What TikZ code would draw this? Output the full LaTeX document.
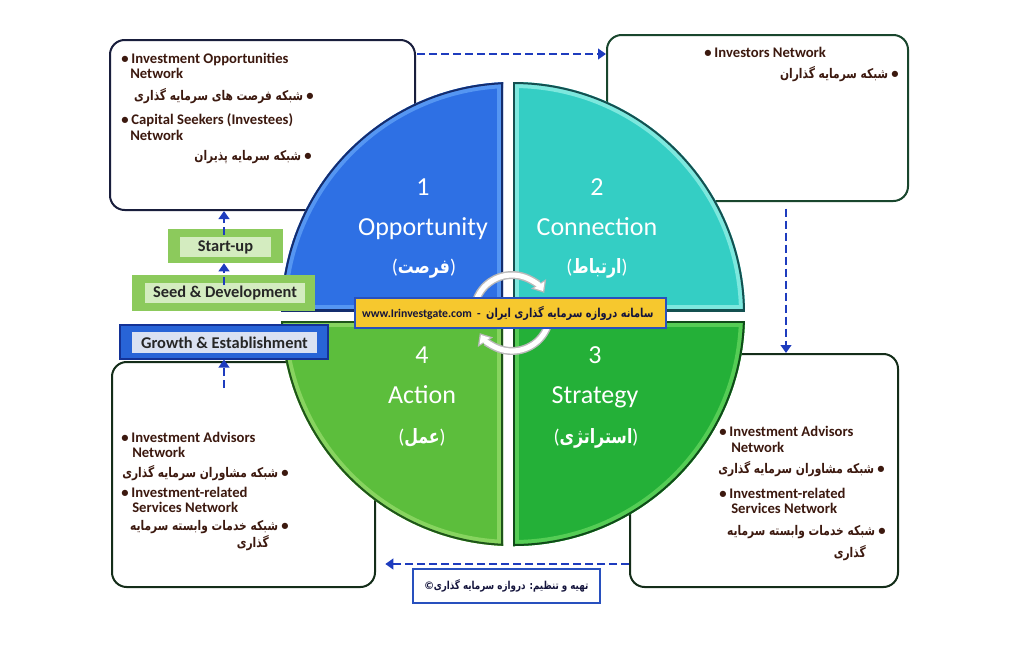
\documentclass[tikz,border=0pt]{standalone}
\usepackage{fontspec}
\setmainfont{Carlito}
\newfontfamily\fa[Script=Arabic,FakeStretch=0.8]{DejaVu Sans}
\TeXXeTstate=1
\usetikzlibrary{arrows.meta,fit}
\newcommand{\fatext}[1]{{\fa\bfseries\beginR #1\endR}}
\newcommand{\fas}[1]{{\fontsize{10pt}{12pt}\selectfont\fatext{#1}}}
\newcommand{\bul}{\textbullet\hspace{0.2em}}
\definecolor{q1}{RGB}{46,112,228}
\definecolor{q1r}{RGB}{85,150,242}
\definecolor{q1d}{RGB}{20,45,110}
\definecolor{q2}{RGB}{52,206,196}
\definecolor{q2r}{RGB}{125,232,222}
\definecolor{q2d}{RGB}{20,80,80}
\definecolor{q3}{RGB}{36,176,56}
\definecolor{q3r}{RGB}{85,205,85}
\definecolor{q3d}{RGB}{15,75,25}
\definecolor{q4}{RGB}{92,190,60}
\definecolor{q4r}{RGB}{135,212,95}
\definecolor{q4d}{RGB}{30,85,25}
\definecolor{txtc}{RGB}{60,25,15}
\definecolor{flowc}{RGB}{30,60,190}
\definecolor{bandc}{RGB}{246,200,46}
\definecolor{bandb}{RGB}{40,80,190}
\definecolor{stg}{RGB}{140,202,92}
\definecolor{stgi}{RGB}{212,236,192}
\definecolor{grb}{RGB}{40,100,215}
\definecolor{grbd}{RGB}{20,50,150}
\definecolor{grbi}{RGB}{218,225,242}
\definecolor{b1c}{RGB}{25,30,60}
\definecolor{b2c}{RGB}{25,70,45}
\definecolor{b3c}{RGB}{20,45,25}
\definecolor{navy}{RGB}{20,20,60}
\begin{document}
\begin{tikzpicture}[x=0.75pt,y=-0.75pt,
  infobox/.style={draw, line width=1.5pt, rounded corners=11pt, fill=white, inner sep=0pt},
  txt/.style={font=\fontsize{11pt}{12pt}\selectfont\bfseries, text=txtc, inner sep=0pt},
  qtxt/.style={font=\fontsize{19.5pt}{22pt}\selectfont, text=white, inner sep=0pt, anchor=base},
  qfa/.style={font=\fontsize{14.8pt}{17pt}\selectfont, text=white, inner sep=0pt, anchor=base},
  flow/.style={draw=flowc, line width=2.2pt, dash pattern=on 6pt off 3pt, -{Triangle[width=8pt,length=6pt]}},
  stageout/.style={inner sep=0pt, fill=stg},
  stagein/.style={inner sep=0pt, fill=stgi},
  stagetxt/.style={inner sep=0pt, font=\fontsize{12.3pt}{14pt}\selectfont\bfseries, text=black!85},
  band/.style={inner sep=0pt, fill=bandc, draw=bandb, line width=1.2pt},
  bandtxt/.style={inner sep=0pt, font=\fontsize{8.8pt}{10pt}\selectfont\bfseries, text=navy},
  credit/.style={inner sep=0pt, fill=white, draw=bandb, line width=1.4pt}
]
\useasboundingbox (0,0) rectangle (1024,644);
\fill[white] (0,0) rectangle (1024,644);

% info boxes
\node[infobox, draw=b1c, fit={(110,40) (415,210)}] (b1) {};
\node[infobox, draw=b2c, fit={(607,35) (908,201)}] (b2) {};
\node[infobox, draw=b3c, fit={(630,354) (898,587)}] (b3) {};
\node[infobox, draw=b3c, fit={(112,362) (375,587)}] (b4) {};

% box texts
\node[txt, anchor=base west] (t1a) at (121,63) {\bul Investment Opportunities};
\node[txt, anchor=base west] (t1a2) at (130,78) {Network};
\node[txt, anchor=base east] (t1b) at (314,100) {\fas{شبکه فرصت های سرمایه گذاری}\ \textbullet};
\node[txt, anchor=base west] (t1c) at (121,124) {\bul Capital Seekers (Investees)};
\node[txt, anchor=base west] (t1c2) at (130,140) {Network};
\node[txt, anchor=base east] (t1d) at (312,160) {\fas{شبکه سرمایه پذیران}\ \textbullet};

\node[txt, anchor=base west] (t2a) at (704,57) {\bul Investors Network};
\node[txt, anchor=base east] (t2b) at (899,78) {\fas{شبکه سرمایه گذاران}\ \textbullet};

\node[txt, anchor=base west] (t3a) at (719,436) {\bul Investment Advisors};
\node[txt, anchor=base west] (t3a2) at (731,452) {Network};
\node[txt, anchor=base east] (t3b) at (885,473) {\fas{شبکه مشاوران سرمایه گذاری}\ \textbullet};
\node[txt, anchor=base west] (t3c) at (719,498) {\bul Investment-related};
\node[txt, anchor=base west] (t3c2) at (731,513) {Services Network};
\node[txt, anchor=base east] (t3d) at (886,535) {\fas{شبکه خدمات وابسته سرمایه}\ \textbullet};
\node[txt, anchor=base east] (t3d2) at (866,557) {\fas{گذاری}};

\node[txt, anchor=base west] (t4a) at (121,442) {\bul Investment Advisors};
\node[txt, anchor=base west] (t4a2) at (132,457) {Network};
\node[txt, anchor=base east] (t4b) at (289,477) {\fas{شبکه مشاوران سرمایه گذاری}\ \textbullet};
\node[txt, anchor=base west] (t4c) at (121,497) {\bul Investment-related};
\node[txt, anchor=base west] (t4c2) at (132,512) {Services Network};
\node[txt, anchor=base east] (t4d) at (289,530) {\fas{شبکه خدمات وابسته سرمایه}\ \textbullet};
\node[txt, anchor=base east] (t4d2) at (269,547) {\fas{گذاری}};

% credit box
\node[credit, fit={(413,569) (600,603)}] (cr) {};
\node[inner sep=0pt, font=\fontsize{8.2pt}{10pt}\selectfont\bfseries, text=navy] (crt) at (cr.center) {©\fatext{تهیه و تنظیم: دروازه سرمایه گذاری}};

% cycle arrows between boxes
\coordinate (ta) at (0,54);
\coordinate (ra) at (786,0);
\coordinate (ba) at (0,564);
\draw[flow, shorten <=1pt] (b1.east |- ta) -- (b2.west |- ta);
\draw[flow, shorten <=5pt] (b2.south -| ra) -- (b3.north -| ra);
\draw[flow, shorten >=7pt] (b3.west |- ba) -- (b4.east |- ba);

% quadrants
\begin{scope}
\clip (513,314) circle[radius=232];
\clip (270,70) rectangle (503,311);
\fill[q1] (270,70) rectangle (503,311);
\draw[q1r, line width=9pt] (513,314) circle[radius=232];
\draw[q1r, line width=9pt] (270,70) rectangle (503,311);
\draw[q1d, line width=3pt] (513,314) circle[radius=232];
\draw[q1d, line width=3pt] (270,70) rectangle (503,311);
\end{scope}
\begin{scope}
\clip (513,314) circle[radius=232];
\clip (513,70) rectangle (760,311);
\fill[q2] (513,70) rectangle (760,311);
\draw[q2r, line width=9pt] (513,314) circle[radius=232];
\draw[q2r, line width=9pt] (513,70) rectangle (760,311);
\draw[q2d, line width=3pt] (513,314) circle[radius=232];
\draw[q2d, line width=3pt] (513,70) rectangle (760,311);
\end{scope}
\begin{scope}
\clip (513,314) circle[radius=232];
\clip (513,321) rectangle (760,560);
\fill[q3] (513,321) rectangle (760,560);
\draw[q3r, line width=9pt] (513,314) circle[radius=232];
\draw[q3r, line width=9pt] (513,321) rectangle (760,560);
\draw[q3d, line width=3pt] (513,314) circle[radius=232];
\draw[q3d, line width=3pt] (513,321) rectangle (760,560);
\end{scope}
\begin{scope}
\clip (513,314) circle[radius=232];
\clip (270,321) rectangle (503,560);
\fill[q4] (270,321) rectangle (503,560);
\draw[q4r, line width=9pt] (513,314) circle[radius=232];
\draw[q4r, line width=9pt] (270,321) rectangle (503,560);
\draw[q4d, line width=3pt] (513,314) circle[radius=232];
\draw[q4d, line width=3pt] (270,321) rectangle (503,560);
\end{scope}

% quadrant texts
\node[qtxt] (n1) at (423,195) {1};
\node[qtxt] (op) at (423,235) {Opportunity};
\node[qfa] (opf) at (424,273) {(\fatext{فرصت})};
\node[qtxt] (n2) at (597,195) {2};
\node[qtxt] (co) at (597,235) {Connection};
\node[qfa] (cof) at (597,273) {(\fatext{ارتباط})};
\node[qtxt] (n4) at (422,363) {4};
\node[qtxt] (ac) at (422,403) {Action};
\node[qfa] (acf) at (422,443) {(\fatext{عمل})};
\node[qtxt] (n3) at (595,363) {3};
\node[qtxt] (sg) at (595,403) {Strategy};
\node[qfa] (sgf) at (596,443) {(\fatext{استراتژی})};

% circular arrows
\draw[gray!55, line width=6pt, -{Triangle[width=13pt,length=8pt]}] (512,313) ++(200:38) arc[start angle=200,end angle=328,radius=38];
\draw[white, line width=3.8pt, shorten >=1.6pt, -{Triangle[width=9pt,length=5.5pt]}] (512,313) ++(200:38) arc[start angle=200,end angle=328,radius=38];
\draw[gray!55, line width=6pt, -{Triangle[width=13pt,length=8pt]}] (512,313) ++(20:38) arc[start angle=20,end angle=148,radius=38];
\draw[white, line width=3.8pt, shorten >=1.6pt, -{Triangle[width=9pt,length=5.5pt]}] (512,313) ++(20:38) arc[start angle=20,end angle=148,radius=38];

% band
\node[band, fit={(355,298) (666,328)}] (bd) {};
\node[bandtxt] (bdt) at ([xshift=-2pt]bd.center) {www.Irinvestgate.com\ \ -\ \ {\fontsize{9.2pt}{11pt}\selectfont\fatext{سامانه دروازه سرمایه گذاری ایران}}};

% stage boxes
\node[stageout, fit={(168,229) (283,263)}] (suo) {};
\node[stagein, fit={(180,237) (271,257)}] (sui) {};
\node[stagetxt] (su) at (sui.center) {Start-up};
\node[stageout, fit={(132,275) (315,311)}] (sdo) {};
\node[stagein, fit={(145,283) (305,303)}] (sdi) {};
\node[stagetxt] (sd) at (sdi.center) {Seed \& Development};
\node[inner sep=0pt, fill=grb, draw=grbd, line width=0.8pt, fit={(120,325) (328,359)}] (gro) {};
\node[stagein, fill=grbi, fit={(132,332) (317,353)}] (gri) {};
\node[stagetxt] (gr) at (gri.center) {Growth \& Establishment};

% stage arrows
\coordinate (l1) at (224,388);
\coordinate (l2) at (224,285);
\coordinate (l3) at (224,235);
\draw[flow] (l1) -- (gro.south -| l1);
\draw[flow] (l2) -- (suo.south -| l2);
\draw[flow] (l3) -- (b1.south -| l3);
\end{tikzpicture}
\end{document}
